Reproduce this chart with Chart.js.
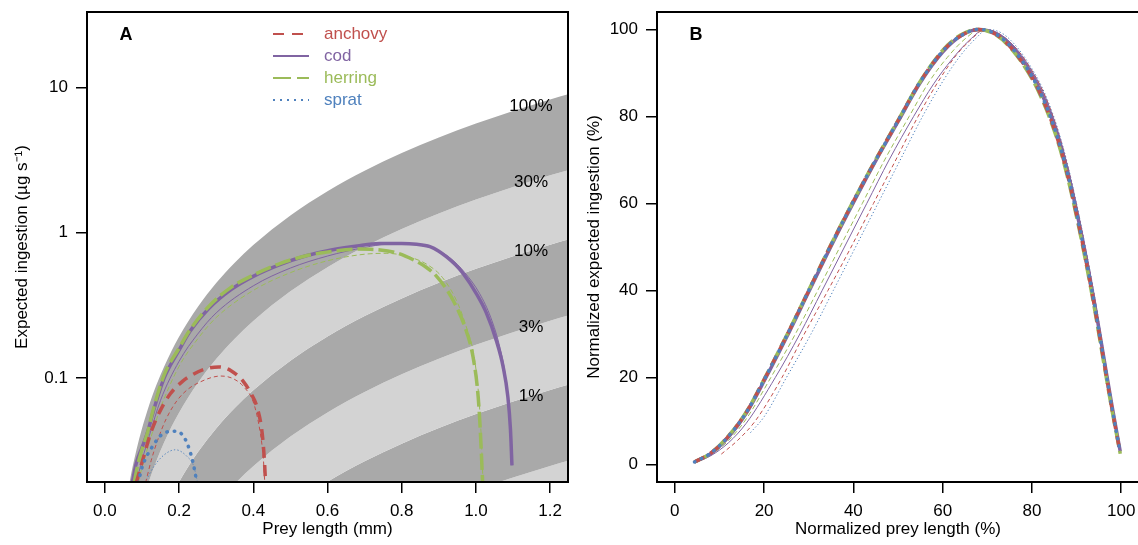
<!DOCTYPE html>
<html>
<head>
<meta charset="utf-8">
<script src="https://cdn.jsdelivr.net/npm/chart.js@4"></script>
<style>
  html, body { margin: 0; padding: 0; background: #fff; overflow: hidden; }
  #wrap { position: relative; width: 1138px; height: 545px; overflow: hidden; }
  #chartA { position: absolute; left: 0; top: 0; }
  #chartB { position: absolute; left: 580px; top: 0; }
</style>
</head>
<body>
<div id="wrap">
  <canvas id="chartA" width="580" height="545"></canvas>
  <canvas id="chartB" width="562" height="545"></canvas>
</div>
<script>
// species and styles
var species = ['anchovy', 'cod', 'herring', 'sprat'];
var colors = ['#C0504D', '#8064A2', '#9BBB59', '#4F81BD'];

// axis ticks
var xTicksA = [0, 0.2, 0.4, 0.6, 0.8, 1.0, 1.2];
var yTicksA = [0.1, 1, 10];
var xTicksB = [0, 20, 40, 60, 80, 100];
var yTicksB = [0, 20, 40, 60, 80, 100];

// background bands (fraction of maximum ingestion)
var bandLabels = ['100%', '30%', '10%', '3%', '1%'];
var bandFractions = [1, 0.3, 0.1, 0.03, 0.01, 0.003];
var envelopeX = [0.03, 0.05, 0.06, 0.067, 0.075, 0.085, 0.1, 0.12, 0.14, 0.16, 0.18, 0.2, 0.25, 0.3, 0.35, 0.4, 0.5, 0.6, 0.7, 0.8, 0.9, 1.0, 1.1, 1.2, 1.25];
var envelopeY = [0.0036, 0.0104, 0.0153, 0.0193, 0.0245, 0.0318, 0.0447, 0.0657, 0.0907, 0.12, 0.154, 0.192, 0.306, 0.449, 0.621, 0.822, 1.314, 1.927, 2.664, 3.525, 4.515, 5.633, 6.88, 8.26, 9.0];

// panel A: expected ingestion vs prey length (thick and thin curves)
var anchovyAx = [0.085, 0.097, 0.11, 0.124, 0.15, 0.177, 0.21, 0.236, 0.27, 0.307, 0.34, 0.374, 0.395, 0.41, 0.424, 0.43, 0.433];
var anchovyAy = [0.019, 0.0245, 0.032, 0.042, 0.06, 0.078, 0.095, 0.105, 0.115, 0.119, 0.112, 0.094, 0.077, 0.063, 0.0416, 0.027, 0.019];
var anchovyThinAx = [0.11, 0.125, 0.142, 0.165, 0.195, 0.225, 0.258, 0.29, 0.312, 0.345, 0.374, 0.401, 0.419, 0.427, 0.431];
var anchovyThinAy = [0.019, 0.027, 0.037, 0.052, 0.07, 0.084, 0.094, 0.101, 0.103, 0.099, 0.087, 0.067, 0.0416, 0.028, 0.019];
var codAx = [0.074, 0.085, 0.1, 0.115, 0.13, 0.16, 0.2, 0.23, 0.28, 0.34, 0.4, 0.47, 0.54, 0.61, 0.68, 0.74, 0.8, 0.84, 0.876, 0.9, 0.921, 0.945, 0.965, 1.001, 1.028, 1.055, 1.073, 1.086, 1.093, 1.097];
var codAy = [0.019, 0.026, 0.033, 0.042, 0.058, 0.1, 0.155, 0.21, 0.3, 0.405, 0.5, 0.6, 0.69, 0.76, 0.81, 0.84, 0.84, 0.83, 0.8, 0.745, 0.68, 0.6, 0.525, 0.38, 0.28, 0.18, 0.12, 0.074, 0.044, 0.025];
var codThinAx = [0.085, 0.1, 0.12, 0.15, 0.2, 0.25, 0.3, 0.4, 0.5, 0.6, 0.7, 0.76, 0.82, 0.86, 0.89, 0.93, 0.97, 1.01, 1.04, 1.065, 1.08, 1.09, 1.097];
var codThinAy = [0.019, 0.027, 0.04, 0.07, 0.13, 0.2, 0.28, 0.43, 0.57, 0.69, 0.79, 0.83, 0.83, 0.81, 0.77, 0.67, 0.53, 0.38, 0.26, 0.16, 0.1, 0.055, 0.025];
var herringAx = [0.079, 0.09, 0.1, 0.115, 0.13, 0.16, 0.2, 0.23, 0.28, 0.34, 0.4, 0.47, 0.54, 0.61, 0.68, 0.742, 0.79, 0.831, 0.865, 0.894, 0.92, 0.939, 0.97, 0.992, 1.006, 1.012, 1.018];
var herringAy = [0.019, 0.026, 0.032, 0.042, 0.06, 0.105, 0.16, 0.215, 0.31, 0.42, 0.51, 0.61, 0.69, 0.74, 0.77, 0.76, 0.72, 0.65, 0.58, 0.5, 0.41, 0.34, 0.225, 0.14, 0.074, 0.042, 0.019];
var herringThinAx = [0.09, 0.1, 0.12, 0.15, 0.2, 0.25, 0.3, 0.4, 0.5, 0.6, 0.7, 0.76, 0.82, 0.87, 0.91, 0.95, 0.975, 0.995, 1.008, 1.014, 1.019];
var herringThinAy = [0.019, 0.024, 0.036, 0.062, 0.12, 0.185, 0.26, 0.4, 0.53, 0.64, 0.71, 0.72, 0.68, 0.6, 0.49, 0.33, 0.22, 0.14, 0.072, 0.04, 0.019];
var spratAx = [0.09, 0.101, 0.128, 0.159, 0.193, 0.217, 0.231, 0.24, 0.248];
var spratAy = [0.019, 0.0245, 0.0336, 0.0416, 0.043, 0.0377, 0.0303, 0.0245, 0.019];
var spratThinAx = [0.108, 0.132, 0.159, 0.19, 0.222, 0.24, 0.25];
var spratThinAy = [0.019, 0.0245, 0.0294, 0.032, 0.0287, 0.0245, 0.019];

// panel B: normalized curves (%)
var thickBx = [4.4, 8, 12, 16, 20, 25, 30, 35, 40, 45, 50, 55, 60, 64, 68, 72, 76, 80, 82, 84, 86, 88, 90, 92, 94, 96, 98, 99.8];
var anchovyBy = [0.6, 2.6, 6.5, 12, 19.5, 29.5, 40, 50.5, 60.5, 70, 79, 88, 95, 98.5, 100, 98.8, 95, 89, 85, 80, 74, 66.5, 57.5, 47.5, 36.5, 24.5, 12.5, 2.6];
var codBy = [0.6, 2.5, 6.3, 11.8, 19.2, 29.2, 39.7, 50.2, 60.2, 69.8, 78.8, 87.8, 94.8, 98.5, 100, 99, 95.6, 89.6, 85.7, 80.8, 74.8, 67.3, 58.3, 48.3, 37.3, 25.3, 13.2, 3];
var herringBy = [0.6, 2.6, 6.6, 12.1, 19.6, 29.6, 40.1, 50.6, 60.6, 70.1, 79.1, 88.1, 95.2, 98.7, 100, 98.7, 94.8, 88.7, 84.6, 79.6, 73.6, 66, 57, 47, 36, 24, 12.2, 2.5];
var spratBy = [0.6, 2.6, 6.5, 12, 19.5, 29.5, 40, 50.5, 60.5, 70, 79, 88, 95, 98.5, 100, 98.9, 95.2, 89.2, 85.2, 80.3, 74.3, 66.8, 57.8, 47.8, 36.8, 24.8, 12.7, 2.7];
var codThinBx = [4.6, 8, 12, 16, 22.5, 28, 33, 38, 43, 48, 53.5, 58, 62, 66, 69.5, 73, 77, 80, 82, 84, 86, 88, 90, 92, 94, 96, 98, 99.8];
var codThinBy = [0.5, 2, 5, 9.5, 20, 30, 40, 50, 60, 70, 80, 87.5, 93, 97.5, 100, 98.8, 95, 90.5, 86.8, 82, 76, 68.5, 59.5, 49.5, 38.5, 26, 13.5, 3];
var herringThinBx = [4.5, 8, 12, 16, 21.5, 27, 32, 37, 42, 47, 52.5, 57, 61, 65, 68.5, 72, 76, 80, 82, 84, 86, 88, 90, 92, 94, 96, 98, 99.8];
var herringThinBy = [0.5, 2.2, 5.5, 10.5, 20, 30, 40, 50, 60, 70, 80, 88, 93.5, 97.8, 100, 98.8, 95.3, 89.8, 86, 81, 75, 67.5, 58.5, 48.5, 37.5, 25.5, 13, 3];
var anchovyThinBx = [10.4, 14, 18, 24, 29, 34.3, 39.5, 44.5, 49.5, 54.5, 59, 63, 66.5, 69.5, 73, 77, 80, 82, 84, 86, 88, 90, 92, 94, 96, 98, 99.8];
var anchovyThinBy = [2.4, 5.5, 10, 20, 30, 40, 50, 60, 70, 80, 88, 94, 97.8, 100, 98.8, 95, 90.5, 86.8, 82, 76, 68.5, 59.5, 49.5, 38.5, 26, 13.5, 3];
var spratThinBx = [17, 20, 25, 30.5, 35.5, 40.5, 45.5, 50.5, 55.5, 60, 64, 67.5, 70, 73.5, 77, 80, 82, 84, 86, 88, 90, 92, 94, 96, 98, 99.8];
var spratThinBy = [7.4, 11, 20, 30, 40, 50, 60, 70, 80, 88, 94, 98, 100, 99, 95.5, 91, 87.3, 82.5, 76.5, 69, 60, 50, 39, 26.5, 14, 3.2];

var FONT = 'Liberation Sans, Arial, Helvetica, sans-serif';
var dashThick = [[11, 7], [], [16, 5], [0.5, 7]];
var dashThin = [[4, 3], [], [5, 3], [0.5, 3]];
var dashLegend = [[11, 8], [], [18, 6], [2, 5]];

function pts(xs, ys) {
    return xs.map(function (x, i) { return { x: x, y: ys[i] }; });
}

function curve(i, xs, ys, thick) {
    return {
        data: pts(xs, ys),
        borderColor: colors[i],
        borderWidth: thick ? 3.5 : 1,
        borderDash: thick ? dashThick[i] : dashThin[i],
        borderCapStyle: i === 3 ? 'round' : 'butt',
        pointRadius: 0,
        fill: false,
        cubicInterpolationMode: 'monotone',
        order: 0
    };
}

function tickScale(list, fmt, titleText, titlePad, fit, isX) {
    return {
        afterBuildTicks: function (s) { s.ticks = list.map(function (v) { return { value: v }; }); },
        ticks: {
            callback: fmt, color: '#000', font: { family: FONT, size: 17 },
            padding: 8, autoSkip: false, maxRotation: 0
        },
        grid: { drawOnChartArea: false, drawTicks: true, tickLength: 11, color: '#000', lineWidth: 1.5 },
        border: { display: false },
        title: { display: true, text: titleText, color: '#000', font: { family: FONT, size: 17 }, padding: titlePad },
        afterFit: function (s) {
            // keep the plot region fixed, labels may overhang
            s.paddingTop = 0; s.paddingBottom = 0; s.paddingLeft = 0; s.paddingRight = 0;
            if (isX) { s.height = fit; } else { s.width = fit; }
        }
    };
}

// plot frame drawn like base graphics box()
var boxPlugin = {
    id: 'box',
    afterDraw: function (chart) {
        var a = chart.chartArea, ctx = chart.ctx;
        ctx.save();
        ctx.strokeStyle = '#000';
        ctx.lineWidth = 2;
        ctx.strokeRect(a.left, a.top, a.right - a.left, a.bottom - a.top);
        ctx.restore();
    }
};

function panelLabel(text) {
    return {
        id: 'panel' + text,
        afterDraw: function (chart) {
            var a = chart.chartArea, ctx = chart.ctx;
            ctx.save();
            ctx.fillStyle = '#000';
            ctx.font = 'bold 18px ' + FONT;
            ctx.textAlign = 'center';
            ctx.textBaseline = 'middle';
            ctx.fillText(text, a.left + 39, a.top + 23);
            ctx.restore();
        }
    };
}

var legendPlugin = {
    id: 'speciesLegend',
    afterDraw: function (chart) {
        var ctx = chart.ctx;
        ctx.save();
        species.forEach(function (name, i) {
            var y = 34 + i * 22;
            ctx.strokeStyle = colors[i];
            ctx.lineWidth = 2;
            ctx.setLineDash(dashLegend[i]);
            ctx.lineCap = 'butt';
            ctx.beginPath();
            ctx.moveTo(273, y);
            ctx.lineTo(309, y);
            ctx.stroke();
            ctx.setLineDash([]);
            ctx.fillStyle = colors[i];
            ctx.font = '17px ' + FONT;
            ctx.textAlign = 'left';
            ctx.textBaseline = 'middle';
            ctx.fillText(name, 324, y);
        });
        ctx.restore();
    }
};

var bandLabelPlugin = {
    id: 'bandLabels',
    afterDatasetsDraw: function (chart) {
        var ctx = chart.ctx, ys = chart.scales.y, a = chart.chartArea;
        var top = envelopeY[envelopeY.length - 1];
        ctx.save();
        ctx.fillStyle = '#000';
        ctx.font = '17px ' + FONT;
        ctx.textAlign = 'center';
        ctx.textBaseline = 'middle';
        bandLabels.forEach(function (lab, i) {
            ctx.fillText(lab, a.right - 37, ys.getPixelForValue(top * bandFractions[i]) + 12);
        });
        ctx.restore();
    }
};

// ---- panel A ----
var datasetsA = [
    curve(3, spratAx, spratAy, true),
    curve(0, anchovyAx, anchovyAy, true),
    curve(2, herringAx, herringAy, true),
    curve(1, codAx, codAy, true),
    curve(0, anchovyThinAx, anchovyThinAy, false),
    curve(1, codThinAx, codThinAy, false),
    curve(2, herringThinAx, herringThinAy, false),
    curve(3, spratThinAx, spratThinAy, false)
];
bandFractions.forEach(function (f, i) {
    datasetsA.push({
        data: pts(envelopeX, envelopeY.map(function (v) { return v * f; })),
        borderWidth: 0,
        borderColor: 'rgba(0,0,0,0)',
        backgroundColor: i % 2 === 0 ? '#A9A9A9' : '#D3D3D3',
        fill: i < bandFractions.length - 1 ? '+1' : 'start',
        pointRadius: 0,
        cubicInterpolationMode: 'monotone',
        order: 5
    });
});

var xA = tickScale(xTicksA, function (v) { return v.toFixed(1); }, 'Prey length (mm)', { top: 0, bottom: 5 }, 63, true);
xA.type = 'linear'; xA.min = -0.048; xA.max = 1.248;
var yA = tickScale(yTicksA, function (v) { return String(v); }, 'Expected ingestion (\u00b5g s\u207b\u00b9)', { top: 12, bottom: 0 }, 87, false);
yA.type = 'logarithmic'; yA.min = 0.0192; yA.max = 33;

new Chart(document.getElementById('chartA').getContext('2d'), {
    type: 'line',
    data: { datasets: datasetsA },
    options: {
        responsive: false,
        animation: false,
        events: [],
        layout: { padding: { left: 0, right: 12, top: 12, bottom: 0 } },
        plugins: { legend: { display: false }, tooltip: { enabled: false } },
        scales: { x: xA, y: yA }
    },
    plugins: [bandLabelPlugin, boxPlugin, legendPlugin, panelLabel('A')]
});

// ---- panel B ----
var datasetsB = [
    curve(3, thickBx, spratBy, true),
    curve(0, thickBx, anchovyBy, true),
    curve(2, thickBx, herringBy, true),
    curve(1, thickBx, codBy, true),
    curve(0, anchovyThinBx, anchovyThinBy, false),
    curve(1, codThinBx, codThinBy, false),
    curve(2, herringThinBx, herringThinBy, false),
    curve(3, spratThinBx, spratThinBy, false)
];

var xB = tickScale(xTicksB, function (v) { return String(v); }, 'Normalized prey length (%)', { top: 0, bottom: 5 }, 63, true);
xB.type = 'linear'; xB.min = -4; xB.max = 104;
var yB = tickScale(yTicksB, function (v) { return String(v); }, 'Normalized expected ingestion (%)', { top: 4, bottom: 0 }, 77, false);
yB.type = 'linear'; yB.min = -4; yB.max = 104;

new Chart(document.getElementById('chartB').getContext('2d'), {
    type: 'line',
    data: { datasets: datasetsB },
    options: {
        responsive: false,
        animation: false,
        events: [],
        layout: { padding: { left: 0, right: 3, top: 12, bottom: 0 } },
        plugins: { legend: { display: false }, tooltip: { enabled: false } },
        scales: { x: xB, y: yB }
    },
    plugins: [boxPlugin, panelLabel('B')]
});
</script>
</body>
</html>
